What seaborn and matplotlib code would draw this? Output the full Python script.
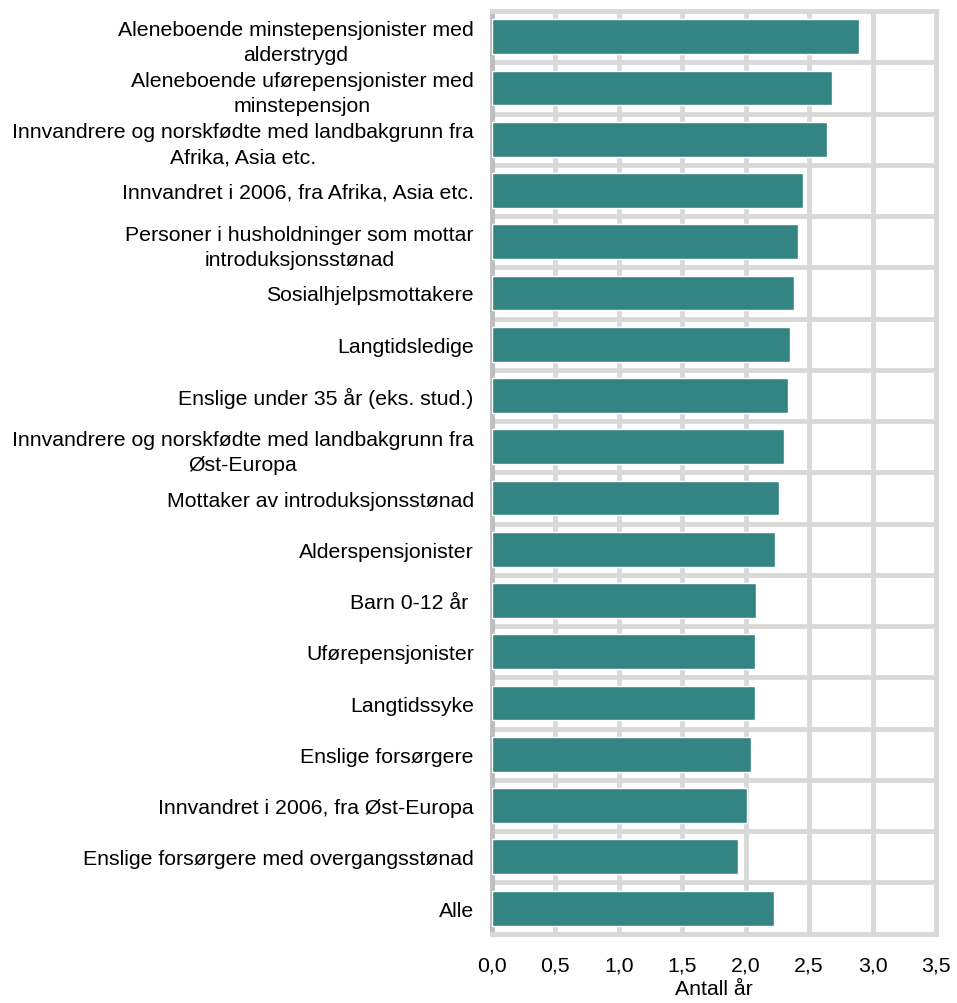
import numpy as np
import matplotlib.pyplot as plt
import seaborn as sns
import pandas as pd
from matplotlib.ticker import FixedLocator, FuncFormatter

categories = [
    'Aleneboende minstepensjonister med\nalderstrygd',
    'Aleneboende uførepensjonister med\nminstepensjon',
    'Innvandrere og norskfødte med landbakgrunn fra\nAfrika, Asia etc.',
    'Innvandret i 2006, fra Afrika, Asia etc.',
    'Personer i husholdninger som mottar\nintroduksjonsstønad',
    'Sosialhjelpsmottakere',
    'Langtidsledige',
    'Enslige under 35 år (eks. stud.)',
    'Innvandrere og norskfødte med landbakgrunn fra\nØst-Europa',
    'Mottaker av introduksjonsstønad',
    'Alderspensjonister',
    'Barn 0-12 år ',
    'Uførepensjonister',
    'Langtidssyke',
    'Enslige forsørgere',
    'Innvandret i 2006, fra Øst-Europa',
    'Enslige forsørgere med overgangsstønad',
    'Alle',
]
values = [2.89, 2.68, 2.64, 2.45, 2.41, 2.38, 2.35, 2.33, 2.30, 2.26,
          2.23, 2.08, 2.07, 2.07, 2.04, 2.01, 1.94, 2.22]

df = pd.DataFrame({'kategori': categories, 'aar': values})

sns.set_style('white')
plt.rcParams['font.family'] = ['Liberation Sans', 'DejaVu Sans']

fig, ax = plt.subplots(figsize=(9.57, 10.04), dpi=100)
fig.subplots_adjust(left=0.514, right=0.978, top=0.988, bottom=0.069)

grid_col = '#d9d9d9'
sns.barplot(data=df, x='aar', y='kategori', color='#358484', saturation=1,
            width=0.68, ax=ax, zorder=3)

ax.set_xlim(0, 3.5)
ax.set_ylim(len(categories) - 0.5, -0.5)
ax.set_xticks(np.arange(0, 3.51, 0.5))
ax.xaxis.set_major_formatter(FuncFormatter(lambda v, p: f'{v:.1f}'.replace('.', ',')))
ax.yaxis.set_minor_locator(FixedLocator(np.arange(-0.5, len(categories), 1)))

ax.grid(axis='x', which='major', color=grid_col, linewidth=3.5, zorder=0)
ax.grid(axis='y', which='minor', color=grid_col, linewidth=3.5, zorder=0)
ax.set_axisbelow(True)

for side in ['top', 'right', 'bottom']:
    ax.spines[side].set_color(grid_col)
    ax.spines[side].set_linewidth(3.5)
ax.spines['left'].set_color('#bfbfbf')
ax.spines['left'].set_linewidth(3.5)

fs = 15.3
ax.tick_params(axis='both', which='both', length=0, labelsize=fs, colors='black')
ax.tick_params(axis='x', pad=16)
ax.tick_params(axis='y', pad=13)
for lab in ax.get_yticklabels():
    lab.set_multialignment('center')
    lab.set_linespacing(1.4)

ax.set_ylabel('')
ax.set_xlabel('Antall år', fontsize=fs, labelpad=3, color='black')

plt.savefig('out.png', dpi=100)
